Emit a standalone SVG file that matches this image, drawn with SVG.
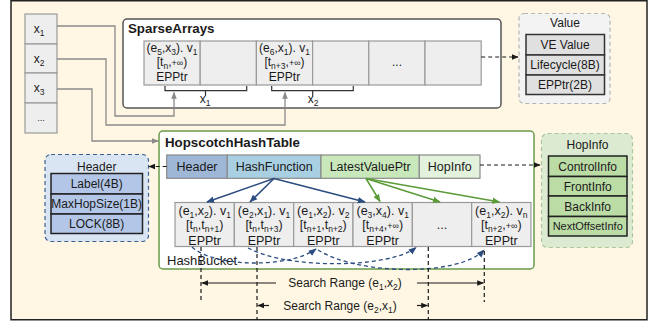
<svg xmlns="http://www.w3.org/2000/svg" width="653" height="327" viewBox="0 0 653 327">
<style>
text{font-family:"Liberation Sans",Arial,sans-serif;font-size:12px;fill:#1a1a1a;text-anchor:middle}
.s{font-size:8.5px}
.inf{font-size:9px}
.t{font-weight:bold;font-size:13.3px;text-anchor:start}
.b{font-size:12.5px}
.cell{fill:#eeeeee;stroke:#9a9a9a;stroke-width:1.2}
.gl{fill:none;stroke:#8a8a8a;stroke-width:1.3}
.bl{fill:none;stroke:#2b4c7e;stroke-width:1.5}
.gr{fill:none;stroke:#5b9b38;stroke-width:1.5}
.dk{fill:none;stroke:#1a1a1a;stroke-width:1.2;stroke-dasharray:4 3}
.db{fill:none;stroke:#2b4c7e;stroke-width:1.3;stroke-dasharray:4 3}
.sl{fill:none;stroke:#1a1a1a;stroke-width:1.2}
.br{fill:none;stroke:#333;stroke-width:1.2}
</style>
<defs>
<marker id="mg" viewBox="0 0 10 10" refX="9" refY="5" markerWidth="7" markerHeight="7" markerUnits="userSpaceOnUse" orient="auto"><path d="M0,1L10,5L0,9z" fill="#8a8a8a"/></marker>
<marker id="mb" viewBox="0 0 10 10" refX="9" refY="5" markerWidth="8" markerHeight="8" markerUnits="userSpaceOnUse" orient="auto"><path d="M0,1L10,5L0,9z" fill="#2b4c7e"/></marker>
<marker id="mgr" viewBox="0 0 10 10" refX="9" refY="5" markerWidth="8" markerHeight="8" markerUnits="userSpaceOnUse" orient="auto"><path d="M0,1L10,5L0,9z" fill="#5b9b38"/></marker>
<marker id="mk" viewBox="0 0 10 10" refX="9" refY="5" markerWidth="7" markerHeight="7" markerUnits="userSpaceOnUse" orient="auto"><path d="M0,1L10,5L0,9z" fill="#1a1a1a"/></marker>
</defs>

<rect x="11" y="0.75" width="636" height="319" fill="#fff7e4" stroke="#222" stroke-width="1.5"/>

<g id="xcolumn">
<rect class="cell" x="25" y="14" width="32" height="30"/>
<rect class="cell" x="25" y="44" width="32" height="29"/>
<rect class="cell" x="25" y="73" width="32" height="30"/>
<rect class="cell" x="25" y="103" width="32" height="30"/>
<text x="39" y="33">x<tspan class="s" dy="2.5">1</tspan></text>
<text x="39" y="63">x<tspan class="s" dy="2.5">2</tspan></text>
<text x="39" y="92">x<tspan class="s" dy="2.5">3</tspan></text>
<text x="41" y="121" style="font-size:9px">...</text>
</g>

<g id="sparsearrays">
<rect x="123" y="19" width="378" height="89" rx="4" fill="#fff" stroke="#555" stroke-width="1.5"/>
<text class="t" x="128" y="33">SparseArrays</text>
<rect class="cell" x="144" y="41" width="56.2" height="44"/>
<rect class="cell" x="200.2" y="41" width="56.2" height="44"/>
<rect class="cell" x="256.4" y="41" width="56.2" height="44"/>
<rect class="cell" x="312.6" y="41" width="56.2" height="44"/>
<rect class="cell" x="368.8" y="41" width="56.2" height="44"/>
<rect class="cell" x="425" y="41" width="56.2" height="44"/>
<text x="172" y="52">(e<tspan class="s" dy="2.5">5</tspan><tspan dy="-2.5">,x</tspan><tspan class="s" dy="2.5">3</tspan><tspan dy="-2.5">). v</tspan><tspan class="s" dy="2.5">1</tspan></text>
<text x="172" y="66">[t<tspan class="s" dy="2.5">n</tspan><tspan dy="-2.5">,</tspan><tspan class="inf">+∞</tspan>)</text>
<text x="172" y="81">EPPtr</text>
<text x="284.5" y="52">(e<tspan class="s" dy="2.5">6</tspan><tspan dy="-2.5">,x</tspan><tspan class="s" dy="2.5">1</tspan><tspan dy="-2.5">). v</tspan><tspan class="s" dy="2.5">1</tspan></text>
<text x="284.5" y="66">[t<tspan class="s" dy="2.5">n+3</tspan><tspan dy="-2.5">,</tspan><tspan class="inf">+∞</tspan>)</text>
<text x="284.5" y="81">EPPtr</text>
<text x="397" y="66">...</text>
<path class="br" d="M165,86V90.7H246.7V86M205.5,90.7V96"/>
<path class="br" d="M271.7,86V90.7H353.3V86M312.7,90.7V96"/>
<text x="205" y="103">x<tspan class="s" dy="2.5">1</tspan></text>
<text x="313" y="103">x<tspan class="s" dy="2.5">2</tspan></text>
</g>

<g id="value">
<rect x="519" y="13.5" width="91" height="90" rx="5" fill="#f3f3f3" stroke="#b5b5b5" stroke-width="1.2" stroke-dasharray="4 3"/>
<text x="565" y="27">Value</text>
<g fill="#e0e0e0" stroke="#333" stroke-width="1.5">
<rect x="526" y="34.5" width="78.5" height="20.5"/>
<rect x="526" y="55" width="78.5" height="20"/>
<rect x="526" y="75" width="78.5" height="19.5"/>
</g>
<text x="565" y="49">VE Value</text>
<text x="565" y="69">Lifecycle(8B)</text>
<text x="565" y="89">EPPtr(2B)</text>
</g>

<g id="header">
<rect x="45" y="154.5" width="103.5" height="87" rx="6" fill="#dae5f4" stroke="#3c5f94" stroke-width="1.2" stroke-dasharray="4 3"/>
<text x="96.7" y="170.5">Header</text>
<g fill="#b3c6e7" stroke="#222" stroke-width="1.5">
<rect x="51" y="173.5" width="91.5" height="20.5"/>
<rect x="51" y="194" width="91.5" height="20"/>
<rect x="51" y="214" width="91.5" height="19.5"/>
</g>
<text x="96.7" y="188.3">Label(4B)</text>
<text x="96.7" y="208">MaxHopSize(1B)</text>
<text x="96.7" y="228">LOCK(8B)</text>
</g>

<g id="hopinfo">
<rect x="541.5" y="133.5" width="91" height="114" rx="6" fill="#dcead2" stroke="#a9c89a" stroke-width="1.2" stroke-dasharray="4 3"/>
<text x="587.5" y="149.3">HopInfo</text>
<g fill="#bcdca6" stroke="#222" stroke-width="1.5">
<rect x="548.5" y="156" width="78.5" height="20.5"/>
<rect x="548.5" y="176.5" width="78.5" height="19.5"/>
<rect x="548.5" y="196" width="78.5" height="20.5"/>
<rect x="548.5" y="216.5" width="78.5" height="19.5"/>
</g>
<text x="587.7" y="171">ControlInfo</text>
<text x="587.7" y="190.5">FrontInfo</text>
<text x="587.7" y="210.5">BackInfo</text>
<text x="587.7" y="230" style="font-size:11px">NextOffsetInfo</text>
</g>

<g id="hopscotchhashtable">
<rect x="159" y="131" width="375" height="138" rx="4" fill="#fff" stroke="#6a9a4a" stroke-width="1.5"/>
<text class="t" x="165" y="147">HopscotchHashTable</text>
<g stroke="#8a8a8a" stroke-width="1.2">
<rect x="166.7" y="155" width="60.6" height="23.3" fill="#9fb7d7"/>
<rect x="227.3" y="155" width="93.7" height="23.3" fill="#a9cfe3"/>
<rect x="321" y="155" width="98.3" height="23.3" fill="#c8e8bc"/>
<rect x="419.3" y="155" width="60.7" height="23.3" fill="#e3f2dc"/>
</g>
<text class="b" x="197" y="171">Header</text>
<text class="b" x="274.2" y="171">HashFunction</text>
<text class="b" x="370.2" y="171">LatestValuePtr</text>
<text class="b" x="449.7" y="171">HopInfo</text>
</g>

<g id="hashbucket">
<rect class="cell" x="175" y="202.5" width="59.33" height="44"/>
<rect class="cell" x="234.33" y="202.5" width="59.33" height="44"/>
<rect class="cell" x="293.67" y="202.5" width="59.33" height="44"/>
<rect class="cell" x="353" y="202.5" width="59.33" height="44"/>
<rect class="cell" x="412.33" y="202.5" width="59.33" height="44"/>
<rect class="cell" x="471.67" y="202.5" width="59.33" height="44"/>
<text class="b" x="204.7" y="215">(e<tspan class="s" dy="2.5">1</tspan><tspan dy="-2.5">,x</tspan><tspan class="s" dy="2.5">2</tspan><tspan dy="-2.5">). v</tspan><tspan class="s" dy="2.5">1</tspan></text>
<text class="b" x="204.7" y="229">[t<tspan class="s" dy="2.5">n</tspan><tspan dy="-2.5">,t</tspan><tspan class="s" dy="2.5">n+1</tspan><tspan dy="-2.5">)</tspan></text>
<text class="b" x="204.7" y="245">EPPtr</text>
<text class="b" x="264" y="215">(e<tspan class="s" dy="2.5">2</tspan><tspan dy="-2.5">,x</tspan><tspan class="s" dy="2.5">1</tspan><tspan dy="-2.5">). v</tspan><tspan class="s" dy="2.5">1</tspan></text>
<text class="b" x="264" y="229">[t<tspan class="s" dy="2.5">n</tspan><tspan dy="-2.5">,t</tspan><tspan class="s" dy="2.5">n+3</tspan><tspan dy="-2.5">)</tspan></text>
<text class="b" x="264" y="245">EPPtr</text>
<text class="b" x="323.3" y="215">(e<tspan class="s" dy="2.5">1</tspan><tspan dy="-2.5">,x</tspan><tspan class="s" dy="2.5">2</tspan><tspan dy="-2.5">). v</tspan><tspan class="s" dy="2.5">2</tspan></text>
<text class="b" x="323.3" y="229">[t<tspan class="s" dy="2.5">n+1</tspan><tspan dy="-2.5">,t</tspan><tspan class="s" dy="2.5">n+2</tspan><tspan dy="-2.5">)</tspan></text>
<text class="b" x="323.3" y="245">EPPtr</text>
<text class="b" x="382.7" y="215">(e<tspan class="s" dy="2.5">3</tspan><tspan dy="-2.5">,x</tspan><tspan class="s" dy="2.5">4</tspan><tspan dy="-2.5">). v</tspan><tspan class="s" dy="2.5">1</tspan></text>
<text class="b" x="382.7" y="229">[t<tspan class="s" dy="2.5">n+4</tspan><tspan dy="-2.5">,</tspan><tspan class="inf">+∞</tspan>)</text>
<text class="b" x="382.7" y="245">EPPtr</text>
<text class="b" x="442" y="229">...</text>
<text class="b" x="501.3" y="215">(e<tspan class="s" dy="2.5">1</tspan><tspan dy="-2.5">,x</tspan><tspan class="s" dy="2.5">2</tspan><tspan dy="-2.5">). v</tspan><tspan class="s" dy="2.5">n</tspan></text>
<text class="b" x="501.3" y="229">[t<tspan class="s" dy="2.5">n+2</tspan><tspan dy="-2.5">,</tspan><tspan class="inf">+∞</tspan>)</text>
<text class="b" x="501.3" y="245">EPPtr</text>
<text x="167" y="265" style="font-size:13px;text-anchor:start">HashBucket</text>
</g>

<g id="connectors">
<path class="gl" d="M57,26H115V116H174V92.5" marker-end="url(#mg)"/>
<path class="gl" d="M57,59H106V125H285V92.5" marker-end="url(#mg)"/>
<path class="gl" d="M57,89H92V141H158" marker-end="url(#mg)"/>
<path class="dk" d="M481.2,57H518" marker-end="url(#mk)"/>
<path class="dk" d="M166.7,166.5H149" marker-end="url(#mk)"/>
<path class="dk" d="M480,165H540" marker-end="url(#mk)"/>
<path class="bl" d="M274,178.5L207,202" marker-end="url(#mb)"/>
<path class="bl" d="M274,178.5L250,202" marker-end="url(#mb)"/>
<path class="bl" d="M274,178.5L365,202" marker-end="url(#mb)"/>
<path class="gr" d="M366,178.5L380,201.5" marker-end="url(#mgr)"/>
<path class="gr" d="M366,178.5L440,202" marker-end="url(#mgr)"/>
<path class="gr" d="M366,178.5L499.5,202" marker-end="url(#mgr)"/>
<path class="db" d="M192,247C215,268 290,268 316,249" marker-end="url(#mb)"/>
<path class="db" d="M248,248C290,270 390,268 416,247.5" marker-end="url(#mb)"/>
<path class="db" d="M318,250C360,276 460,276 484,250" marker-end="url(#mb)"/>
<path class="dk" d="M201,247V302M257,247V320M428.3,247V320M484.3,251V302"/>
<path class="sl" d="M276,283H202" marker-end="url(#mk)"/>
<path class="sl" d="M417,283H483.5" marker-end="url(#mk)"/>
<path class="sl" d="M269,305.5H258" marker-end="url(#mk)"/>
<path class="sl" d="M417,305.5H427.5" marker-end="url(#mk)"/>
</g>
<text x="345" y="287">Search Range (e<tspan class="s" dy="2.5">1</tspan><tspan dy="-2.5">,x</tspan><tspan class="s" dy="2.5">2</tspan><tspan dy="-2.5">)</tspan></text>
<text x="340" y="310">Search Range (e<tspan class="s" dy="2.5">2</tspan><tspan dy="-2.5">,x</tspan><tspan class="s" dy="2.5">1</tspan><tspan dy="-2.5">)</tspan></text>
</svg>
